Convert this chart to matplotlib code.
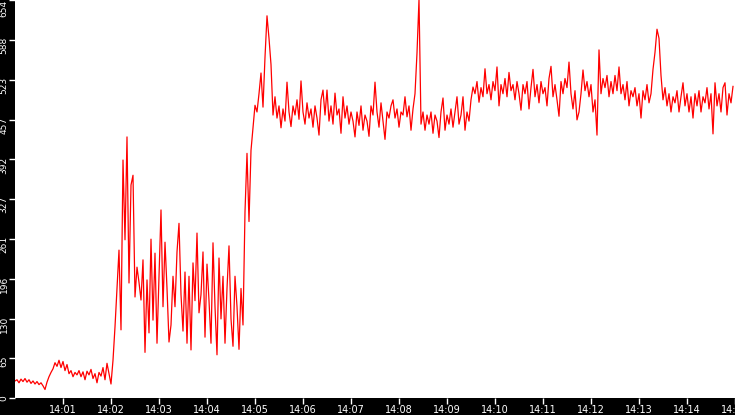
import matplotlib
matplotlib.use("Agg")
import matplotlib.pyplot as plt
import matplotlib.dates as mdates
import matplotlib.transforms as mtransforms
import pandas as pd

# samples every 2.5 s, starting 14:00:00
start_time = "2024-01-01 14:00:00"
end_time = "2024-01-01 14:15:00"
sample_step = "2500ms"

# idle phase before 14:02
warmup = [28, 30, 25, 31, 27, 32, 26, 30, 24, 28,
          23, 27, 22, 25, 20, 14, 26, 35, 42, 48,
          58, 52, 62, 50, 60, 45, 55, 40, 45, 35,
          42, 38, 45, 35, 43, 30, 44, 38, 47, 32,
          40, 25, 42, 36, 50, 30, 57, 40, 23, 62]

# ramp + noisy middle phase, 14:02 - 14:05
ramp = [117, 181, 243, 112, 391, 260, 429, 189, 350, 366,
        166, 215, 190, 161, 227, 75, 194, 107, 261, 128,
        238, 90, 200, 309, 150, 256, 180, 92, 120, 200,
        150, 240, 287, 170, 110, 207, 90, 200, 79, 222,
        160, 271, 140, 170, 240, 100, 220, 160, 90, 255,
        150, 71, 230, 130, 200, 90, 180, 250, 130, 85,
        200, 150, 80, 180, 120, 306, 402, 290, 407, 445]

# full load from 14:05 on
plateau = [481, 470, 500, 534, 478, 560, 628, 591, 548, 465,
           495, 460, 480, 444, 475, 455, 519, 470, 446, 480,
           465, 490, 458, 521, 470, 450, 485, 460, 475, 445,
           480, 460, 432, 490, 506, 465, 506, 455, 480, 450,
           501, 465, 475, 435, 495, 460, 480, 450, 470, 455,
           429, 470, 448, 480, 440, 465, 455, 430, 480, 465,
           519, 470, 445, 485, 455, 425, 470, 460, 480, 490,
           460, 475, 445, 470, 465, 495, 462, 480, 440, 475,
           500, 567, 655, 450, 470, 440, 465, 450, 470, 435,
           465, 455, 428, 470, 493, 440, 465, 450, 475, 445,
           470, 495, 450, 465, 495, 440, 470, 455, 490, 511,
           500, 520, 486, 510, 495, 541, 500, 515, 490, 520,
           505, 544, 480, 515, 500, 525, 495, 535, 505, 515,
           490, 520, 500, 473, 515, 500, 520, 475, 510, 540,
           495, 515, 485, 520, 500, 510, 480, 525, 545, 495,
           515, 490, 463, 520, 500, 525, 510, 552, 500, 475,
           505, 457, 470, 500, 539, 505, 520, 495, 515, 470,
           490, 432, 572, 500, 525, 510, 530, 495, 520, 500,
           530, 505, 544, 500, 515, 490, 520, 480, 505, 495,
           510, 480, 500, 460, 505, 490, 515, 485, 500, 540,
           568, 606, 591, 530, 490, 510, 480, 500, 470, 495,
           485, 505, 470, 495, 518, 480, 500, 470, 495, 460,
           500, 480, 505, 470, 495, 485, 510, 475, 500, 434,
           518, 480, 500, 470, 510, 518, 465, 500, 485, 512]

y_ticks = [0, 65, 130, 196, 261, 327, 392, 457, 523, 588, 654]
x_ticks = pd.date_range("2024-01-01 14:01:00", end_time, freq="1min")

values = warmup + ramp + plateau
times = pd.date_range(start_time, periods=len(values), freq=sample_step)

fig = plt.figure(figsize=(7.35, 4.15), dpi=100, facecolor="black")
ax = fig.add_axes([15 / 735, 17 / 415, 720 / 735, 398 / 415])
ax.set_facecolor("white")

ax.plot(times, values, color="red", linewidth=0.9)

ax.set_xlim(pd.Timestamp(start_time), pd.Timestamp(end_time))
ax.set_ylim(0, 654)
ax.set_yticks(y_ticks)
ax.set_xticks(x_ticks)
ax.xaxis.set_major_formatter(mdates.DateFormatter("%H:%M"))

for s in ax.spines.values():
    s.set_visible(False)

ax.tick_params(axis="x", colors="white", length=4, width=1, pad=1, labelsize=7)
ax.tick_params(axis="y", colors="white", length=4, width=1, pad=0.5, labelsize=6.5,
               labelrotation=90)

# labels hang just below their tick, like the original
shift = mtransforms.ScaledTranslation(0, 3 / 100, fig.dpi_scale_trans)
for val, lbl in zip(y_ticks, ax.get_yticklabels()):
    lbl.set_va("top")
    if val != y_ticks[-1]:
        lbl.set_transform(lbl.get_transform() + shift)

fig.savefig("out.png", dpi=100, facecolor="black")
